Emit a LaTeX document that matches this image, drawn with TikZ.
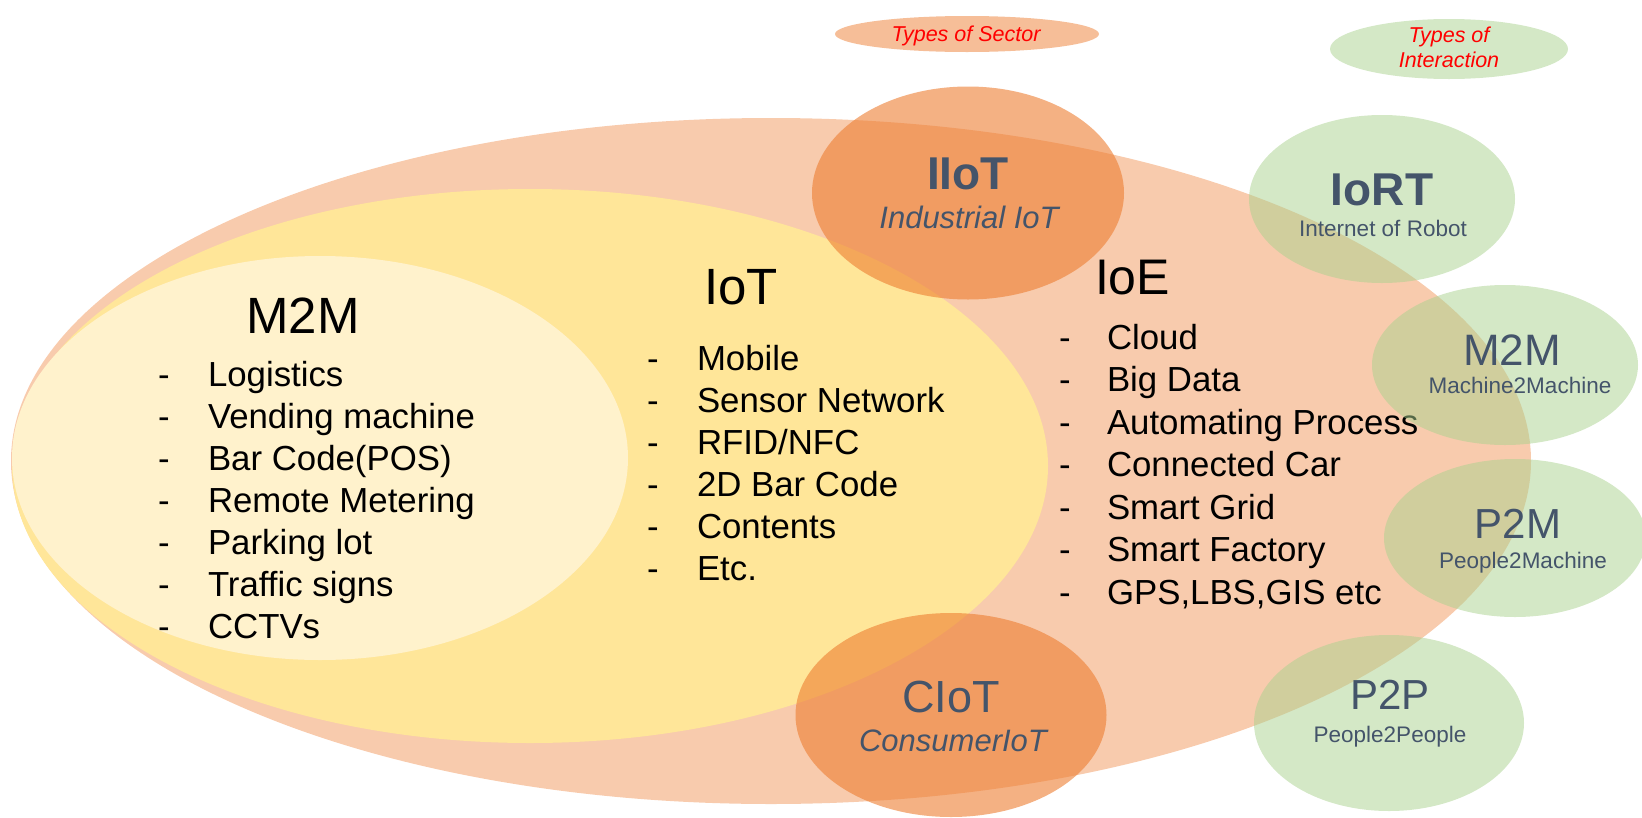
\documentclass[tikz,border=0pt]{standalone}
\usepackage{fontspec}
\setmainfont{Liberation Sans}
\usetikzlibrary{shapes.geometric}
\definecolor{ioeC}{HTML}{F8CBAD}
\definecolor{iotC}{HTML}{FFE699}
\definecolor{mtmC}{HTML}{FFF2CC}
\definecolor{secC}{HTML}{ED7D31}
\definecolor{intC}{HTML}{A9D18E}
\definecolor{slate}{HTML}{44546A}
\newcommand\myfs[1]{\fontsize{#1}{#1}\selectfont}
\begin{document}
\begin{tikzpicture}[x=1pt,y=-1pt,
  blob/.style={ellipse, inner sep=0pt, outer sep=0pt, draw=none},
  sector/.style={blob, fill=secC, fill opacity=0.6},
  inter/.style={blob, fill=intC, fill opacity=0.5},
  txt/.style={inner sep=0pt, outer sep=0pt, anchor=base},
  ltxt/.style={inner sep=0pt, outer sep=0pt, anchor=base west, font=\myfs{34.8}},
  bigtitle/.style={txt, font=\myfs{51}},
  sltitle/.style={txt, text=slate, font=\myfs{44}},
  slsub/.style={txt, text=slate, font=\myfs{22.5}},
  redlab/.style={txt, text=red, font=\myfs{21.5}\itshape}
]
\useasboundingbox (0,0) rectangle (1642,817);

% main ellipses
\node[blob, fill=ioeC, minimum width=1520pt, minimum height=686pt] (ioe) at (771,461) {};
\node[blob, fill=iotC, minimum width=1036pt, minimum height=554pt] (iot) at (530,466) {};
\node[blob, fill=mtmC, minimum width=616pt, minimum height=404pt] (mtm) at (320,458) {};

% titles
\node[bigtitle] (tm2m) at (303,333) {M2M};
\node[bigtitle] (tiot) at (741,304) {IoT};
\node[txt, anchor=base west, font=\myfs{50}] (tioe) at (1095,294) {IoE};

% M2M list
\foreach \t [count=\i from 0] in {Logistics, Vending machine, Bar Code(POS), Remote Metering, Parking lot, Traffic signs, CCTVs} {
  \node[ltxt] (md\i) at (158,386+42*\i) {-};
  \node[ltxt] (mi\i) at (208,386+42*\i) {\t};
}
% IoT list
\foreach \t [count=\i from 0] in {Mobile, Sensor Network, RFID/NFC, 2D Bar Code, Contents, Etc.} {
  \node[ltxt] (td\i) at (647,370+42*\i) {-};
  \node[ltxt] (ti\i) at (697,370+42*\i) {\t};
}
% IoE list
\foreach \t [count=\i from 0] in {Cloud, Big Data, Automating Process, Connected Car, Smart Grid, Smart Factory, {GPS,LBS,GIS etc}} {
  \node[ltxt] (ed\i) at (1059,349+42.5*\i) {-};
  \node[ltxt] (ei\i) at (1107,349+42.5*\i) {\t};
}

% sector circles
\node[sector, minimum width=312pt, minimum height=213pt] (iiot) at (968,193) {};
\node[sector, minimum width=311pt, minimum height=204pt] (ciot) at (951,715) {};
\node[txt, text=slate, font=\myfs{46}\bfseries] (tiiot) at (968,189) {IIoT};
\node[txt, text=slate, font=\myfs{31}\itshape] (siiot) at (969,228) {Industrial IoT};
\node[sltitle, font=\myfs{45}] (tciot) at (951,712) {CIoT};
\node[txt, text=slate, font=\myfs{31}\itshape] (sciot) at (953,751) {ConsumerIoT};

% interaction circles
\node[inter, minimum width=266pt, minimum height=168pt] (iort) at (1382,199) {};
\node[inter, minimum width=266pt, minimum height=160pt] (gm2m) at (1505,365) {};
\node[inter, minimum width=262pt, minimum height=158pt] (gp2m) at (1515,538) {};
\node[inter, minimum width=270pt, minimum height=176pt] (gp2p) at (1389,723) {};

\node[txt, text=slate, font=\myfs{46}\bfseries] (tiort) at (1382,205) {IoRT};
\node[slsub] (siort) at (1383,236) {Internet of Robot};
\node[sltitle] (tgm2m) at (1512,365) {M2M};
\node[slsub] (sgm2m) at (1520,393) {Machine2Machine};
\node[sltitle, font=\myfs{42}] (tgp2m) at (1518,538) {P2M};
\node[slsub] (sgp2m) at (1523,568) {People2Machine};
\node[sltitle, font=\myfs{42}] (tgp2p) at (1390,709) {P2P};
\node[slsub] (sgp2p) at (1390,742) {People2People};

% legend ellipses
\node[blob, fill=secC, fill opacity=0.5, minimum width=264pt, minimum height=36pt] (lsec) at (967,34) {};
\node[redlab] (tsec) at (966,41) {Types of Sector};
\node[inter, minimum width=238pt, minimum height=60pt] (lint) at (1449,49) {};
\node[redlab] (tint1) at (1449,42) {Types of};
\node[redlab] (tint2) at (1449,67) {Interaction};
\end{tikzpicture}
\end{document}
